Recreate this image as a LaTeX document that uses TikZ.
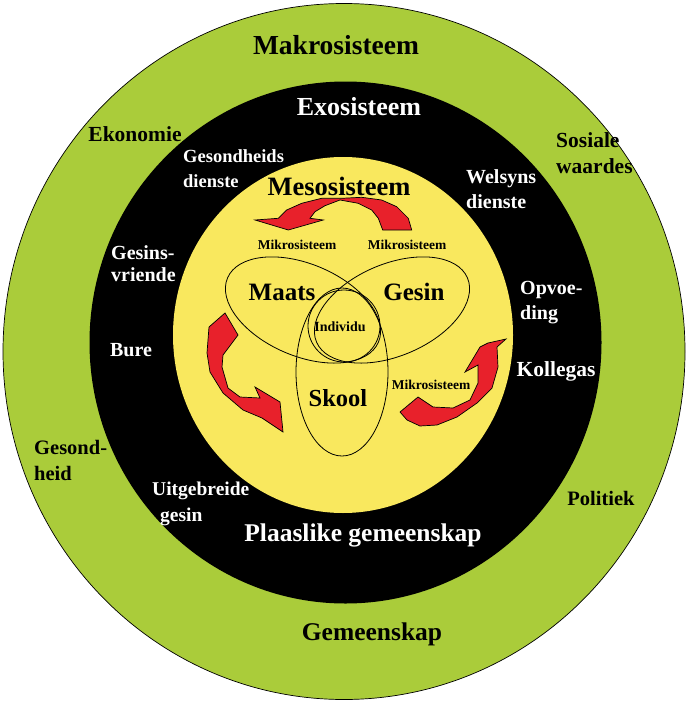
\documentclass[tikz,border=0pt]{standalone}
\usepackage{fontspec}
\setmainfont{Liberation Serif}
\definecolor{grn}{RGB}{170,204,58}
\definecolor{ylw}{RGB}{249,232,94}
\definecolor{rd}{RGB}{232,33,43}
\tikzset{
  lbl/.style={inner sep=0pt, font=\bfseries\fontsize{#1}{#1}\selectfont},
  wlbl/.style={inner sep=0pt, text=white, align=left, font=\bfseries\fontsize{20}{25}\selectfont},
  blbl/.style={inner sep=0pt, text=black, align=left, font=\bfseries\fontsize{20.5}{26}\selectfont},
  venn/.style={draw=black, line width=0.8pt},
  redarrow/.style={fill=rd, draw=black, line width=0.7pt, line join=miter}
}
\begin{document}
\begin{tikzpicture}[x=1pt,y=-1pt]
\useasboundingbox (0,0) rectangle (687,701);
% rings
\filldraw[fill=grn, draw=black, line width=0.7pt] (344,351.5) ellipse (341 and 348);
\fill[black] (345.5,342.5) ellipse (256 and 261);
\fill[ylw] (343,335) ellipse (170 and 178);
% Venn
\draw[venn, rotate around={-23:(303,310)}] (303,310) ellipse (82 and 46);
\draw[venn, rotate around={23:(392,310)}] (392,310) ellipse (82 and 46);
\draw[venn] (342,372) ellipse (46 and 84);
\draw[venn] (344,326) ellipse (36 and 36);
% top arrow
\filldraw[redarrow] (255,220) -- (288.3,230) -- (323.3,220) -- (310,218.3) -- (315,211.7) -- (325,205.7) -- (340,200) -- (358.3,203.3) -- (371.7,210) -- (378.3,218.3) -- (382.7,230) -- (411.7,230) -- (408.3,218.3) -- (396.7,206.7) -- (381.7,200) -- (361.7,197.3) -- (341.7,198.3) -- (321.7,198.3) -- (301.7,203.3) -- (286.7,210) -- (278.3,218.3) -- cycle;
% left arrow
\filldraw[redarrow] (225,313) -- (238,335) -- (223,355) -- (222,367) -- (228,388) -- (240,397) -- (260,398) -- (255,387) -- (280,402) -- (283,432) -- (262,418) -- (243,410) -- (223,393) -- (210,372) -- (207,353) -- (209,327) -- cycle;
% right arrow
\filldraw[redarrow] (400,412) -- (418,397) -- (433,407) -- (453,408) -- (470,400) -- (478,383) -- (478,365) -- (465,372) -- (480,347) -- (488,343) -- (506,339) -- (497,347) -- (498,367) -- (492,388) -- (477,403) -- (457,417) -- (437,425) -- (420,426) -- (407,420) -- cycle;
% titles
\node[lbl=27.5] (makro) at (336,45) {Makrosisteem};
\node[lbl=26, text=white] (exo) at (359,107) {Exosisteem};
\node[lbl=26.5] (meso) at (339,186) {Mesosisteem};
\node[lbl=25.5, text=white] (plaas) at (363,535) {Plaaslike gemeenskap};
\node[lbl=25.5] (gemeen) at (372,634) {Gemeenskap};
% venn labels
\node[lbl=25] (maats) at (282,292) {Maats};
\node[lbl=25] (gesin) at (414,292) {Gesin};
\node[lbl=24.5] (skool) at (338,398) {Skool};
\node[lbl=14] (indiv) at (340,327) {Individu};
\node[lbl=13.5] (mik1) at (297,245) {Mikrosisteem};
\node[lbl=13.5] (mik2) at (407,245) {Mikrosisteem};
\node[lbl=13.5] (mik3) at (431,385) {Mikrosisteem};
% green ring labels
\node[blbl, font=\bfseries\fontsize{21.5}{26}\selectfont] (ekon) at (135,134) {Ekonomie};
\node[blbl, anchor=north west, font=\bfseries\fontsize{21.5}{26.5}\selectfont] (sos) at (556,132) {Sosiale\\waardes};
\node[blbl, anchor=north west] (gesond) at (34,440) {Gesond-\\heid};
\node[blbl] (polit) at (601,498) {Politiek};
% black ring labels
\node[wlbl, anchor=north west, font=\bfseries\fontsize{18.5}{25}\selectfont] (gesdien) at (183,149) {Gesondheids\\dienste};
\node[wlbl, anchor=north west] (welsyn) at (466,169) {Welsyns\\dienste};
\node[wlbl, anchor=north west, font=\bfseries\fontsize{20}{22}\selectfont] (gesvr) at (111,245) {Gesins-\\vriende};
\node[wlbl, anchor=north west] (opvoe) at (520,281) {Opvoe-\\ding};
\node[wlbl] (bure) at (131,350) {Bure};
\node[wlbl, font=\bfseries\fontsize{21.5}{25}\selectfont] (koll) at (556,371) {Kollegas};
\node[wlbl, anchor=north west, font=\bfseries\fontsize{19.5}{26}\selectfont] (uitg) at (152,482) {Uitgebreide\\\hspace*{8pt}gesin};
\end{tikzpicture}
\end{document}
